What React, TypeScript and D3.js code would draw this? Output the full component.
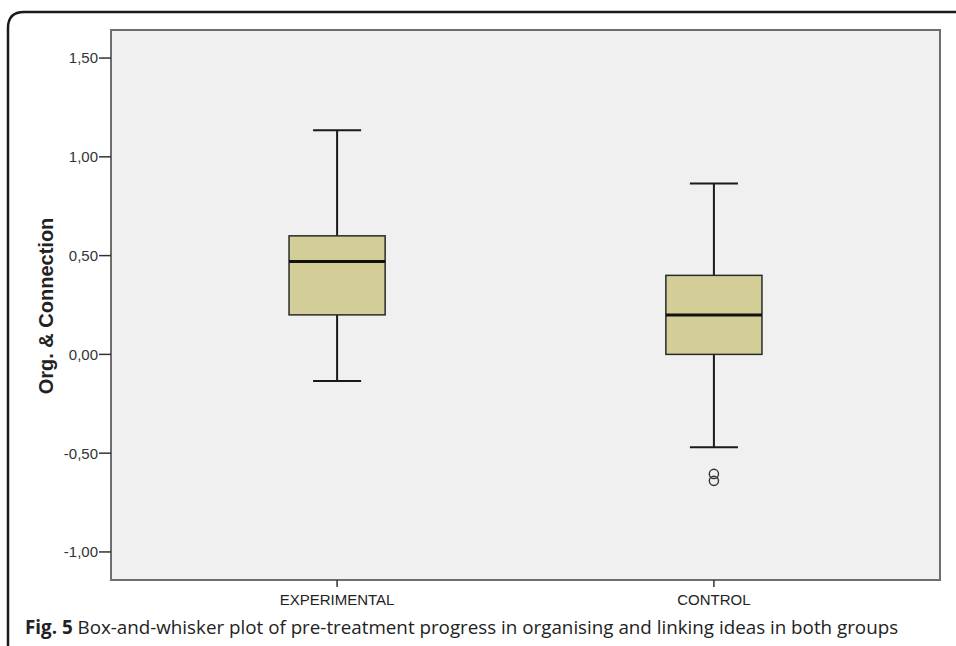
import React from "react";
import * as d3 from "d3";

// Group labels and five-number summaries (min whisker, Q1, median, Q3, max whisker)
const groups = ["EXPERIMENTAL", "CONTROL"];
const whiskerLow = [-0.135, -0.47];
const q1 = [0.2, 0.0];
const median = [0.47, 0.2];
const q3 = [0.6, 0.4];
const whiskerHigh = [1.135, 0.865];
// Outlying cases, per group
const outliers: number[][] = [[], [-0.605, -0.64]];
const yTicks = [-1.0, -0.5, 0.0, 0.5, 1.0, 1.5];

const W = 956;
const H = 646;
const plot = { left: 111, right: 940, top: 30, bottom: 580 };
const sans = "Liberation Sans, Arial, sans-serif";

export default function App() {
  const y = d3.scaleLinear().domain([-1.142, 1.642]).range([plot.bottom, plot.top]);
  const x = d3.scalePoint<string>().domain(groups).range([plot.left, plot.right]).padding(0.6);
  const step = x.step();
  const boxW = step * 0.255;
  const capW = boxW / 2;
  const fmt = (v: number) => d3.format(".2f")(v).replace(".", ",").replace("−", "-");

  return (
    <svg
      width={W}
      height={H}
      style={{ position: "fixed", left: 0, top: 0, background: "#fff" }}
    >
      {/* outer figure frame with rounded top-left corner */}
      <path
        d={`M 8 ${H + 10} L 8 28 Q 8 12 24 12 L ${W + 10} 12`}
        fill="none"
        stroke="#1a1a1a"
        strokeWidth={2.5}
      />
      {/* plot area */}
      <rect
        x={plot.left}
        y={plot.top}
        width={plot.right - plot.left}
        height={plot.bottom - plot.top}
        fill="#f0f0f0"
        stroke="#6e6e6e"
        strokeWidth={2}
      />
      {/* y axis ticks and labels */}
      {yTicks.map((t) => (
        <g key={t}>
          <line x1={plot.left - 12} x2={plot.left} y1={y(t)} y2={y(t)} stroke="#333" strokeWidth={1.5} />
          <text
            x={plot.left - 13}
            y={y(t)}
            dy="0.36em"
            textAnchor="end"
            fontFamily={sans}
            fontSize={15}
            fill="#333"
          >
            {fmt(t)}
          </text>
        </g>
      ))}
      <text
        transform={`translate(53, ${(plot.top + plot.bottom) / 2 + 1}) rotate(-90)`}
        textAnchor="middle"
        fontFamily={sans}
        fontWeight="bold"
        fontSize={20}
        fill="#222"
      >
        Org. &amp; Connection
      </text>
      {/* x axis ticks and labels */}
      {groups.map((g) => (
        <g key={g}>
          <line x1={x(g)!} x2={x(g)!} y1={plot.bottom} y2={plot.bottom + 7} stroke="#333" strokeWidth={1.5} />
          <text
            x={x(g)!}
            y={plot.bottom + 25}
            textAnchor="middle"
            fontFamily={sans}
            fontSize={15}
            fill="#222"
          >
            {g}
          </text>
        </g>
      ))}
      {/* boxes */}
      {groups.map((g, i) => {
        const cx = x(g)!;
        return (
          <g key={g}>
            <line x1={cx} x2={cx} y1={y(whiskerHigh[i])} y2={y(q3[i])} stroke="#1a1a1a" strokeWidth={2} />
            <line x1={cx} x2={cx} y1={y(q1[i])} y2={y(whiskerLow[i])} stroke="#1a1a1a" strokeWidth={2} />
            <line x1={cx - capW / 2} x2={cx + capW / 2} y1={y(whiskerHigh[i])} y2={y(whiskerHigh[i])} stroke="#1a1a1a" strokeWidth={2} />
            <line x1={cx - capW / 2} x2={cx + capW / 2} y1={y(whiskerLow[i])} y2={y(whiskerLow[i])} stroke="#1a1a1a" strokeWidth={2} />
            <rect
              x={cx - boxW / 2}
              y={y(q3[i])}
              width={boxW}
              height={y(q1[i]) - y(q3[i])}
              fill="#d3ce98"
              stroke="#2a2a2a"
              strokeWidth={1.5}
            />
            <line x1={cx - boxW / 2} x2={cx + boxW / 2} y1={y(median[i])} y2={y(median[i])} stroke="#111" strokeWidth={3} />
            {outliers[i].map((v, k) => (
              <circle key={k} cx={cx} cy={y(v)} r={4.6} fill="none" stroke="#333" strokeWidth={1.4} />
            ))}
          </g>
        );
      })}
      {/* caption */}
      <text x={25} y={634} fontFamily="Open Sans, sans-serif" fontSize={18.8} fill="#222">
        <tspan fontWeight="bold">Fig. 5</tspan>
        <tspan> Box-and-whisker plot of pre-treatment progress in organising and linking ideas in both groups</tspan>
      </text>
    </svg>
  );
}
